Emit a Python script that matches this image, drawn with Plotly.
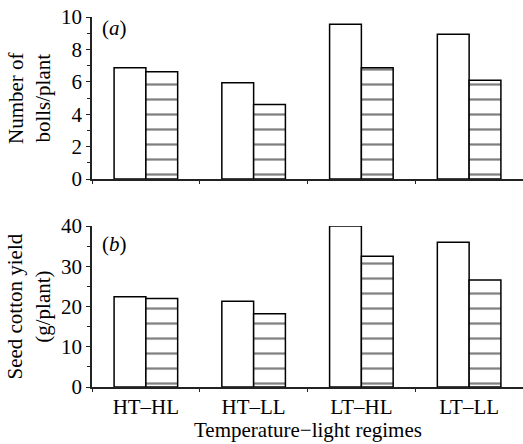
import plotly.graph_objects as go

categories = ["HT–HL", "HT–LL", "LT–HL", "LT–LL"]
bolls_open = [6.87, 5.94, 9.55, 8.93]
bolls_hatched = [6.62, 4.6, 6.87, 6.09]
yield_open = [22.4, 21.3, 40.0, 36.0]
yield_hatched = [22.0, 18.2, 32.5, 26.6]

FONT = "Liberation Serif"
FS = 21
line = dict(color="black", width=1.5)
hatch = dict(shape="-", fgcolor="black", bgcolor="white", size=15, solidity=0.15, fillmode="overlay")

fig = go.Figure()
fig.add_bar(x=categories, y=bolls_open, marker=dict(color="white", line=line), xaxis="x", yaxis="y", showlegend=False)
fig.add_bar(x=categories, y=bolls_hatched, marker=dict(color="white", line=line, pattern=hatch), xaxis="x", yaxis="y", showlegend=False)
fig.add_bar(x=categories, y=yield_open, marker=dict(color="white", line=line), xaxis="x2", yaxis="y2", showlegend=False)
fig.add_bar(x=categories, y=yield_hatched, marker=dict(color="white", line=line, pattern=hatch), xaxis="x2", yaxis="y2", showlegend=False)

axcommon = dict(showline=True, linecolor="#222", linewidth=1.5, showgrid=False, zeroline=False,
                tickfont=dict(family=FONT, size=FS, color="black"))
fig.update_layout(
    width=523, height=444,
    margin=dict(l=92, r=0, t=17, b=57),
    paper_bgcolor="white", plot_bgcolor="white",
    barmode="group", bargap=0.41, bargroupgap=0,
    font=dict(family=FONT, color="black"),
    xaxis=dict(domain=[0, 1], anchor="y", showticklabels=False, tickson="boundaries",
               ticks="outside", ticklen=3, tickcolor="#222", **axcommon),
    yaxis=dict(domain=[0.562, 1], anchor="x", range=[0, 10], dtick=2, ticks="outside", ticklen=4,
               tickcolor="#222", minor=dict(dtick=1, ticks="outside", ticklen=3, tickcolor="#222"), **axcommon),
    xaxis2=dict(domain=[0, 1], anchor="y2", tickson="boundaries", ticks="outside", ticklen=3,
                tickcolor="#222", **axcommon),
    yaxis2=dict(domain=[0, 0.435], anchor="x2", range=[0, 40], dtick=10, ticks="outside", ticklen=4,
                tickcolor="#222", minor=dict(dtick=5, ticks="outside", ticklen=3, tickcolor="#222"), **axcommon),
)

fig.add_annotation(text="Number of<br>bolls/plant", xref="paper", yref="y domain", x=0, y=0.5,
                   xanchor="center", yanchor="middle", xshift=-63, textangle=-90, showarrow=False,
                   font=dict(family=FONT, size=FS, color="black"))
fig.add_annotation(text="Seed cotton yield<br>(g/plant)", xref="paper", yref="y2 domain", x=0, y=0.5,
                   xanchor="center", yanchor="middle", xshift=-63, textangle=-90, showarrow=False,
                   font=dict(family=FONT, size=FS, color="black"))
fig.add_annotation(text="Temperature−light regimes", xref="paper", yref="paper", x=0.5, y=0,
                   xanchor="center", yanchor="middle", yshift=-43, showarrow=False,
                   font=dict(family=FONT, size=FS, color="black"))
fig.add_annotation(text="(<i>a</i>)", xref="paper", yref="y domain", x=0, y=1, xanchor="left", yanchor="top",
                   xshift=8, yshift=3, showarrow=False, font=dict(family=FONT, size=FS, color="black"))
fig.add_annotation(text="(<i>b</i>)", xref="paper", yref="y2 domain", x=0, y=1, xanchor="left", yanchor="top",
                   xshift=8, yshift=-4, showarrow=False, font=dict(family=FONT, size=FS, color="black"))

fig.write_html("out.html", config={"displayModeBar": False},
               post_script="document.body.style.margin='0';document.body.style.overflow='hidden';")
